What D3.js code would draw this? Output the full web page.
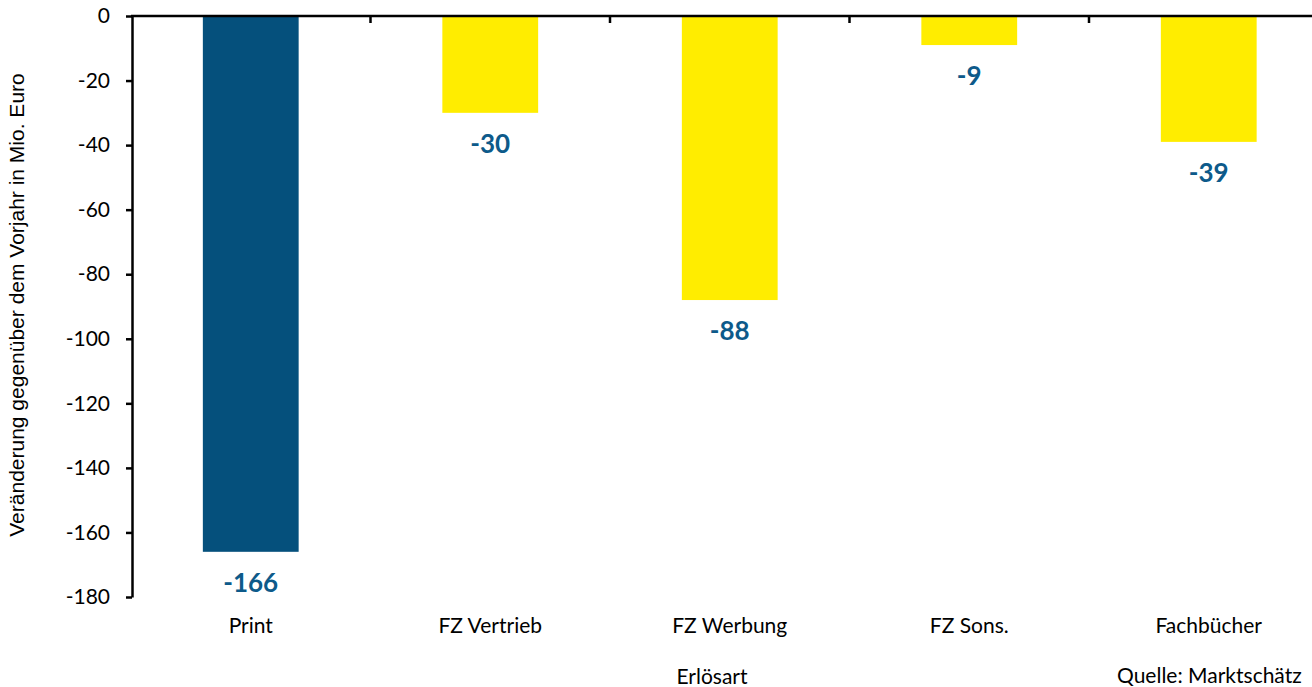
<!DOCTYPE html>
<html>
<head>
<meta charset="utf-8">
<script src="https://cdn.jsdelivr.net/npm/d3@7"></script>
<style>
  body { margin: 0; background: #fff; }
  svg { display: block; }
  .lbl { font-family: Lato, "Open Sans", sans-serif; }
</style>
</head>
<body>
<div id="chart"></div>
<script>
const categories = ["Print", "FZ Vertrieb", "FZ Werbung", "FZ Sons.", "Fachbücher"];
const values = [-166, -30, -88, -9, -39];
const yTicks = [0, -20, -40, -60, -80, -100, -120, -140, -160, -180];

const navy = "#05507c";
const yellow = "#ffed00";
const labelColor = "#0d5a8a";

const width = 1312, height = 687;

const svg = d3.select("#chart")
    .append("svg")
    .attr("width", width)
    .attr("height", height)

const x = d3.scaleBand()
    .domain(categories)
    .range([131, 131 + 5 * 239.5])
    .paddingInner(0.6)
    .paddingOuter(0.3)

const y = d3.scaleLinear()
    .domain([-180, 0])
    .range([597, 16])

// bars
svg.selectAll("rect.bar")
    .data(categories)
    .join("rect")
    .attr("class", "bar")
    .attr("x", d => x(d))
    .attr("y", y(0))
    .attr("width", x.bandwidth())
    .attr("height", (d, i) => y(values[i]) - y(0))
    .attr("fill", (d, i) => i === 0 ? navy : yellow)

// value labels
svg.selectAll("text.val")
    .data(categories)
    .join("text")
    .attr("class", "val lbl")
    .attr("x", d => x(d) + x.bandwidth() / 2)
    .attr("y", (d, i) => y(values[i]) + 40)
    .attr("text-anchor", "middle")
    .attr("font-size", "26px")
    .attr("font-weight", "bold")
    .attr("fill", labelColor)
    .text((d, i) => String(values[i]))

// y axis
const yAxis = svg.append("g")
    .attr("transform", "translate(132,0)")
    .call(d3.axisLeft(y).tickValues(yTicks).tickFormat(d => String(d))
        .tickSize(6).tickPadding(16).tickSizeOuter(0))
yAxis.select(".domain").attr("stroke", "#000").attr("stroke-width", 2.5)
yAxis.selectAll(".tick line").attr("stroke", "#000").attr("stroke-width", 2.5)
yAxis.selectAll(".tick text")
    .attr("class", "lbl")
    .attr("font-size", "21px")
    .attr("fill", "#000")

// x axis line at zero with boundary ticks
const boundaries = categories.map(d => x(d) - (x.step() - x.bandwidth()) / 2).slice(1)
svg.append("line")
    .attr("x1", 131).attr("x2", width)
    .attr("y1", y(0)).attr("y2", y(0))
    .attr("stroke", "#000").attr("stroke-width", 2.5)
svg.selectAll("line.xtick")
    .data(boundaries)
    .join("line")
    .attr("class", "xtick")
    .attr("x1", d => d).attr("x2", d => d)
    .attr("y1", y(0)).attr("y2", y(0) + 7)
    .attr("stroke", "#000").attr("stroke-width", 2.5)

// category labels
svg.selectAll("text.cat")
    .data(categories)
    .join("text")
    .attr("class", "cat lbl")
    .attr("x", d => x(d) + x.bandwidth() / 2)
    .attr("y", 633)
    .attr("text-anchor", "middle")
    .attr("font-size", "21px")
    .attr("fill", "#000")
    .text(d => d)

// axis titles
svg.append("text")
    .attr("class", "lbl")
    .attr("x", 712)
    .attr("y", 684)
    .attr("text-anchor", "middle")
    .attr("font-size", "21px")
    .text("Erlösart")

svg.append("text")
    .attr("class", "lbl")
    .attr("x", 1117)
    .attr("y", 683)
    .attr("font-size", "21px")
    .text("Quelle: Marktschätz")

svg.append("text")
    .attr("transform", "translate(24,305) rotate(-90)")
    .attr("text-anchor", "middle")
    .attr("font-family", "'Liberation Sans', Arial, sans-serif")
    .attr("font-size", "21px")
    .attr("fill", "#000")
    .text("Veränderung gegenüber dem Vorjahr in Mio. Euro")
</script>
</body>
</html>
